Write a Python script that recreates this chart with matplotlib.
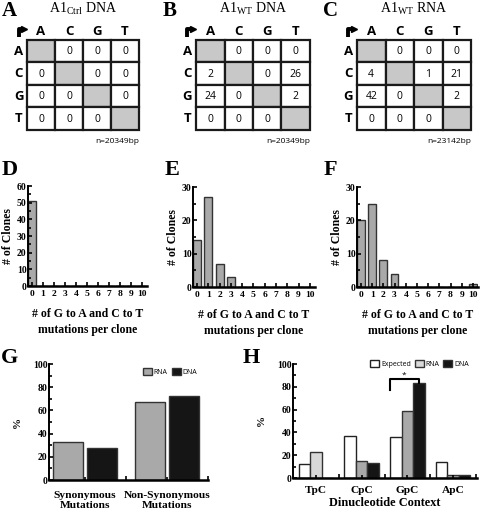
import matplotlib
matplotlib.use("Agg")
import matplotlib.pyplot as plt
from matplotlib.patches import Rectangle
from matplotlib.ticker import MultipleLocator

# ---- data ----
bases = ['A', 'C', 'G', 'T']
ctrl_dna = [[None, 0, 0, 0], [0, None, 0, 0], [0, 0, None, 0], [0, 0, 0, None]]
wt_dna = [[None, 0, 0, 0], [2, None, 0, 26], [24, 0, None, 2], [0, 0, 0, None]]
wt_rna = [[None, 0, 0, 0], [4, None, 1, 21], [42, 0, None, 2], [0, 0, 0, None]]
table_n = ['n=20349bp', 'n=20349bp', 'n=23142bp']

n_mut = list(range(11))
ctrl_clones = [51, 0, 0, 0, 0, 0, 0, 0, 0, 0, 0]
wt_dna_clones = [14, 27, 7, 3, 0, 0, 0, 0, 0, 0, 0]
wt_rna_clones = [20, 25, 8, 4, 0, 0, 0, 0, 0, 0, 1]

syn_groups = ['Synonymous\nMutations', 'Non-Synonymous\nMutations']
syn_rna = [33, 67]
syn_dna = [28, 72]

contexts = ['TpC', 'CpC', 'GpC', 'ApC']
ctx_expected = [12, 37, 36, 14]
ctx_rna = [23, 15, 59, 3]
ctx_dna = [0, 13, 83, 3]

W, H = 480, 511
SERIF = 'Liberation Serif'
SANS = 'Open Sans'
GRAY = '#a9a9a9'
DARK = '#151515'

plt.rcParams['mathtext.fontset'] = 'custom'
plt.rcParams['mathtext.rm'] = SERIF

fig = plt.figure(figsize=(W / 100, H / 100), dpi=100)


def box(l, r, t, b):
    return fig.add_axes([l / W, 1 - b / H, (r - l) / W, (b - t) / H])


def ftext(x, y, s, **kw):
    fig.text(x / W, 1 - y / H, s, **kw)


# ---- A, B, C: substitution tables ----
tables = [(27, 139, ctrl_dna, r'A1$_{\rm Ctrl}$ DNA', 'A', 9),
          (196, 310, wt_dna, r'A1$_{\rm WT}$ DNA', 'B', 170),
          (357, 471, wt_rna, r'A1$_{\rm WT}$ RNA', 'C', 331)]
for k, (l, r, mat, title, letter, lx) in enumerate(tables):
    ax = box(l, r, 40, 130)
    ax.set_xlim(0, 4)
    ax.set_ylim(4, 0)
    ax.axis('off')
    for i in range(4):
        for j in range(4):
            v = mat[i][j]
            ax.add_patch(Rectangle((j, i), 1, 1, facecolor='#c8c8c8' if v is None else 'white',
                                   edgecolor='#1a1a1a', lw=1.6, clip_on=False))
            if v is not None:
                ax.text(j + 0.5, i + 0.52, str(v), ha='center', va='center',
                        fontsize=7.5, family=SANS)
        ax.text(i + 0.5, -0.38, bases[i], ha='center', va='center', fontsize=9.5,
                family=SANS, fontweight='bold')
        ax.text(-0.3, i + 0.5, bases[i], ha='center', va='center', fontsize=9.5,
                family=SANS, fontweight='bold')
    # bent "start" arrow in the corner
    ax.plot([-0.3, -0.3, -0.14], [-0.12, -0.5, -0.5], color='black', lw=2.8,
            solid_capstyle='butt', solid_joinstyle='round', clip_on=False)
    ax.plot([-0.1], [-0.5], marker='>', ms=5, color='black', clip_on=False)
    ax.text(4.0, 4.5, table_n[k], ha='right', va='center', fontsize=6, family=SANS)
    ftext((l + r) / 2, 9, title, ha='center', va='center', fontsize=10, family=SERIF)
    ftext(lx, 11, letter, ha='center', va='center', fontsize=15, family=SERIF,
          fontweight='bold')


def style_axes(ax):
    for s in ['top', 'right']:
        ax.spines[s].set_visible(False)
    ax.spines['left'].set_linewidth(1.4)
    ax.spines['bottom'].set_linewidth(1.8)
    ax.tick_params(which='both', direction='in', width=1.2, colors='black')
    ax.tick_params(which='major', length=3)
    ax.tick_params(which='minor', length=2)
    for lab in ax.get_xticklabels() + ax.get_yticklabels():
        lab.set_family(SERIF)
        lab.set_fontweight('bold')


# ---- D, E, F: clone histograms ----
hists = [(28, 147, 186, 286, ctrl_clones, 60, 'D', 10),
         (193, 315, 187, 287, wt_dna_clones, 30, 'E', 172),
         (357, 478, 187, 287, wt_rna_clones, 30, 'F', 330)]
for l, r, t, b, counts, top, letter, lx in hists:
    ax = box(l, r, t, b)
    ax.bar(n_mut, counts, width=0.7, color=GRAY, edgecolor='#333333', lw=1.0)
    ax.set_xlim(-0.35, 10.45)
    ax.set_ylim(0, top)
    ax.set_xticks(n_mut)
    ax.yaxis.set_major_locator(MultipleLocator(10))
    ax.yaxis.set_minor_locator(MultipleLocator(5))
    ax.tick_params(axis='x', length=2.5, width=1.6, pad=3, labelsize=6.8)
    ax.tick_params(axis='y', labelsize=7, pad=1)
    style_axes(ax)
    ax.set_ylabel('# of Clones', family=SERIF, fontweight='bold', fontsize=8.5, labelpad=2)
    ax.set_xlabel('# of G to A and C to T\nmutations per clone', family=SERIF,
                  fontweight='bold', fontsize=8.5, labelpad=7, linespacing=1.45)
    ftext(lx, 170, letter, ha='center', va='center', fontsize=16, family=SERIF,
          fontweight='bold')

# ---- G: synonymous vs non-synonymous ----
ax = box(49, 208, 364, 480)
gx = list(range(len(syn_groups)))
ax.bar([x - 0.205 for x in gx], syn_rna, width=0.37, color=GRAY, edgecolor='#333333',
       lw=1.0, label='RNA')
ax.bar([x + 0.205 for x in gx], syn_dna, width=0.37, color=DARK, edgecolor='#333333',
       lw=1.0, label='DNA')
ax.set_xlim(-0.44, 1.5)
ax.set_ylim(0, 100)
ax.yaxis.set_major_locator(MultipleLocator(20))
ax.yaxis.set_minor_locator(MultipleLocator(10))
ax.set_xticks([0.5, 1.5])
ax.set_xticklabels([])
ax.set_xticks(gx, minor=True)
ax.set_xticklabels(syn_groups, minor=True)
ax.tick_params(axis='x', which='minor', length=0, labelsize=8.2, pad=8)
ax.tick_params(axis='x', which='major', length=3, width=1.6)
ax.tick_params(axis='y', labelsize=7, pad=1)
style_axes(ax)
for lab in ax.get_xticklabels(minor=True):
    lab.set_family(SERIF)
    lab.set_fontweight('bold')
    lab.set_linespacing(1.15)
ax.set_ylabel('%', family=SERIF, fontweight='bold', fontsize=8, labelpad=8)
ax.legend(loc='upper right', bbox_to_anchor=(0.96, 1.0), ncol=2, frameon=False,
          prop={'family': SANS, 'size': 5}, handlelength=1.3, handleheight=1.1,
          handletextpad=0.3, columnspacing=0.6, borderaxespad=0.2)
ftext(10, 358, 'G', ha='center', va='center', fontsize=16, family=SERIF,
      fontweight='bold')

# ---- H: dinucleotide context ----
ax = box(293, 477, 364, 478)
hx = list(range(len(contexts)))
rna_cols = ['#d9d9d9'] + [GRAY] * (len(contexts) - 1)
ax.bar([x - 0.25 for x in hx], ctx_expected, width=0.25, color='white',
       edgecolor='#222222', lw=1.0, label='Expected')
ax.bar(hx, ctx_rna, width=0.25, color=rna_cols, edgecolor='#333333', lw=1.0, label='RNA')
ax.bar([x + 0.25 for x in hx], ctx_dna, width=0.25, color=DARK, edgecolor='#333333',
       lw=1.0, label='DNA')
ax.set_xlim(-0.5, 3.52)
ax.set_ylim(0, 100)
ax.yaxis.set_major_locator(MultipleLocator(20))
ax.yaxis.set_minor_locator(MultipleLocator(10))
ax.set_xticks([0.5, 1.5, 2.5, 3.5])
ax.set_xticklabels([])
ax.set_xticks(hx, minor=True)
ax.set_xticklabels(contexts, minor=True)
ax.tick_params(axis='x', which='minor', length=0, labelsize=8.2, pad=6)
ax.tick_params(axis='x', which='major', length=3, width=1.6)
ax.tick_params(axis='y', labelsize=7, pad=1)
style_axes(ax)
for lab in ax.get_xticklabels(minor=True):
    lab.set_family(SERIF)
    lab.set_fontweight('bold')
ax.set_ylabel('%', family=SERIF, fontweight='bold', fontsize=8, labelpad=8)
ax.set_xlabel('Dinucleotide Context', family=SERIF, fontweight='bold', fontsize=8.8,
              labelpad=1)
# significance bracket between GpC expected and DNA bars
bx0, bx1 = 2 - 0.38, 2 + 0.25
ax.plot([bx0, bx0, bx1, bx1], [77, 87, 87, ctx_dna[2]], color='black', lw=1.5,
        clip_on=False)
ax.text((bx0 + bx1) / 2, 90, '*', ha='center', va='center', fontsize=6, family=SANS)
ax.legend(loc='upper right', bbox_to_anchor=(0.97, 1.06), ncol=3, frameon=False,
          prop={'family': SANS, 'size': 5}, handlelength=1.3, handleheight=1.1,
          handletextpad=0.3, columnspacing=0.5, borderaxespad=0.0)
ftext(251, 358, 'H', ha='center', va='center', fontsize=16, family=SERIF,
      fontweight='bold')

fig.savefig('out.png', dpi=100)
